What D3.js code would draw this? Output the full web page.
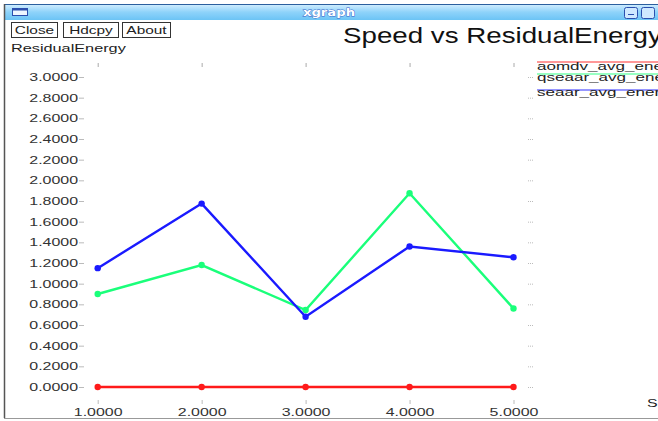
<!DOCTYPE html>
<html>
<head>
<meta charset="utf-8">
<script src="https://cdn.jsdelivr.net/npm/d3@7"></script>
<style>
  html, body { margin: 0; padding: 0; background: #fff; }
  svg { display: block; font-family: "Liberation Sans", Arial, sans-serif; }
</style>
</head>
<body>
<svg id="chart" width="658" height="421"></svg>
<script>
// Speed values on the x axis
const speeds = [1, 2, 3, 4, 5];
// Average residual energy per protocol
const aomdvEnergy  = [0, 0, 0, 0, 0];
const qseaarEnergy = [0.90, 1.18, 0.745, 1.875, 0.76];
const seaarEnergy  = [1.15, 1.775, 0.68, 1.36, 1.255];
const seriesNames  = ["aomdv_avg_energy", "qseaar_avg_energy", "seaar_avg_energy"];
const seriesColors = ["#ff1a1a", "#1aff7a", "#1a1aff"];
const yTicks = [0, 0.2, 0.4, 0.6, 0.8, 1.0, 1.2, 1.4, 1.6, 1.8, 2.0, 2.2, 2.4, 2.6, 2.8, 3.0];
const xTicks = speeds;

const svg = d3.select("#chart");
const W = 658, H = 421;
const SX = 1.45; // wide lettering used by the xgraph window

// text drawn with a horizontal stretch around its own anchor point
function wideText(parent, x, y, str, size, sx, anchor) {
  return parent.append("text")
    .attr("x", x / sx).attr("y", y)
    .attr("transform", `scale(${sx},1)`)
    .attr("font-size", size)
    .attr("text-anchor", anchor || "start")
    .text(str);
}

// window frame
const defs = svg.append("defs");
const grad = defs.append("linearGradient").attr("id", "bar").attr("x1", 0).attr("y1", 0).attr("x2", 0).attr("y2", 1);
grad.append("stop").attr("offset", "0%").attr("stop-color", "#d6efff");
grad.append("stop").attr("offset", "50%").attr("stop-color", "#8fd3fa");
grad.append("stop").attr("offset", "100%").attr("stop-color", "#6cc4f5");

svg.append("rect").attr("x", 4).attr("y", 4).attr("width", W - 4).attr("height", 16)
  .attr("fill", "url(#bar)");
svg.append("line").attr("x1", 4).attr("x2", W).attr("y1", 4.5).attr("y2", 4.5)
  .attr("stroke", "#2b5f9e").attr("stroke-width", 1);
svg.append("line").attr("x1", 4.5).attr("x2", 4.5).attr("y1", 4).attr("y2", 418)
  .attr("stroke", "#555").attr("stroke-width", 1.5);
svg.append("line").attr("x1", 4).attr("x2", W).attr("y1", 418.5).attr("y2", 418.5)
  .attr("stroke", "#999").attr("stroke-width", 1);

// title bar icon and buttons
svg.append("rect").attr("x", 12.5).attr("y", 8.5).attr("width", 15).attr("height", 7)
  .attr("fill", "#eef6ff").attr("stroke", "#2b4fae").attr("stroke-width", 1);
svg.append("rect").attr("x", 12.5).attr("y", 8.5).attr("width", 15).attr("height", 2)
  .attr("fill", "#2b4fae");
wideText(svg, 329, 16.5, "xgraph", 11, 1.2, "middle")
  .attr("font-weight", "bold").attr("fill", "#fff")
  .attr("stroke", "#3a62c8").attr("stroke-width", 0.8).attr("paint-order", "stroke")
  .attr("font-family", "DejaVu Sans");
[624, 641].forEach(x => {
  svg.append("rect").attr("x", x + 0.5).attr("y", 7.5).attr("width", 13).attr("height", 11).attr("rx", 2)
    .attr("fill", "#cfe9ff").attr("stroke", "#2b4fae");
});
svg.append("line").attr("x1", 628).attr("x2", 634).attr("y1", 14.5).attr("y2", 14.5).attr("stroke", "#2b4fae");

const buttons = [["Close", 11, 46], ["Hdcpy", 63, 55], ["About", 122, 48]];
buttons.forEach(([label, x, w]) => {
  svg.append("rect").attr("x", x + 0.5).attr("y", 22.5).attr("width", w).attr("height", 15)
    .attr("fill", "#fff").attr("stroke", "#333").attr("stroke-width", 1);
  wideText(svg, x + w / 2 + 0.5, 34, label, 11, 1.4, "middle").attr("fill", "#222");
});

wideText(svg, 11, 52, "ResidualEnergy", 11, 1.48).attr("fill", "#222");
wideText(svg, 343, 43, "Speed vs ResidualEnergy", 22, 1.26).attr("fill", "#111");
wideText(svg, 647, 407, "Speed", 11, SX).attr("fill", "#222");

// scales
const x = d3.scaleLinear().domain([1, 5]).range([97.7, 513.5]);
const y = d3.scaleLinear().domain([0, 3]).range([387, 77]);
const fmt = d3.format(".4f");

function styleTicks(g, color) {
  g.select(".domain").remove();
  g.selectAll("line").attr("stroke", color);
}

// left axis labels with tick dashes
const gy = svg.append("g").attr("transform", "translate(84,0)")
  .call(d3.axisLeft(y).tickValues(yTicks).tickFormat(fmt).tickSize(5));
styleTicks(gy, "#bbb");
gy.selectAll("text")
  .attr("x", -6 / SX).attr("transform", `scale(${SX},1)`)
  .attr("font-size", 11).attr("fill", "#333")
  .attr("font-family", "Liberation Sans, Arial, sans-serif");

// right-hand tick marks
const gr = svg.append("g").attr("transform", "translate(528,0)")
  .call(d3.axisRight(y).tickValues(yTicks).tickSize(5).tickFormat(""));
styleTicks(gr, "#bbb");
gr.selectAll("line").attr("stroke-dasharray", "1,1");

// bottom axis labels
const gx = svg.append("g").attr("transform", "translate(0,400)")
  .call(d3.axisBottom(x).tickValues(xTicks).tickFormat(fmt).tickSize(4).tickPadding(4));
styleTicks(gx, "#bbb");
gx.selectAll("text")
  .attr("transform", `scale(${SX},1)`)
  .attr("font-size", 11).attr("fill", "#333")
  .attr("font-family", "Liberation Sans, Arial, sans-serif");

// top tick marks
const gt = svg.append("g").attr("transform", "translate(0,67)")
  .call(d3.axisTop(x).tickValues(xTicks).tickSize(4).tickFormat(""));
styleTicks(gt, "#aaa");

// series
const series = [aomdvEnergy, qseaarEnergy, seaarEnergy];
const line = d3.line().x((d, i) => x(speeds[i])).y(d => y(d));
series.forEach((vals, k) => {
  svg.append("path").datum(vals).attr("d", line).attr("fill", "none")
    .attr("stroke", seriesColors[k]).attr("stroke-width", 2.4);
  svg.append("g").selectAll("circle").data(vals).join("circle")
    .attr("cx", (d, i) => x(speeds[i])).attr("cy", d => y(d)).attr("r", 3.2)
    .attr("fill", seriesColors[k]);
});

// legend
const legendLineY = [62, 74, 90];
const legendTextY = [70, 81, 96];
seriesNames.forEach((name, k) => {
  svg.append("line").attr("x1", 537).attr("x2", W).attr("y1", legendLineY[k]).attr("y2", legendLineY[k])
    .attr("stroke", seriesColors[k]).attr("stroke-width", 1.5).attr("opacity", 0.6);
  wideText(svg, 537, legendTextY[k], name, 11, 1.55).attr("fill", "#222");
});
</script>
</body>
</html>
